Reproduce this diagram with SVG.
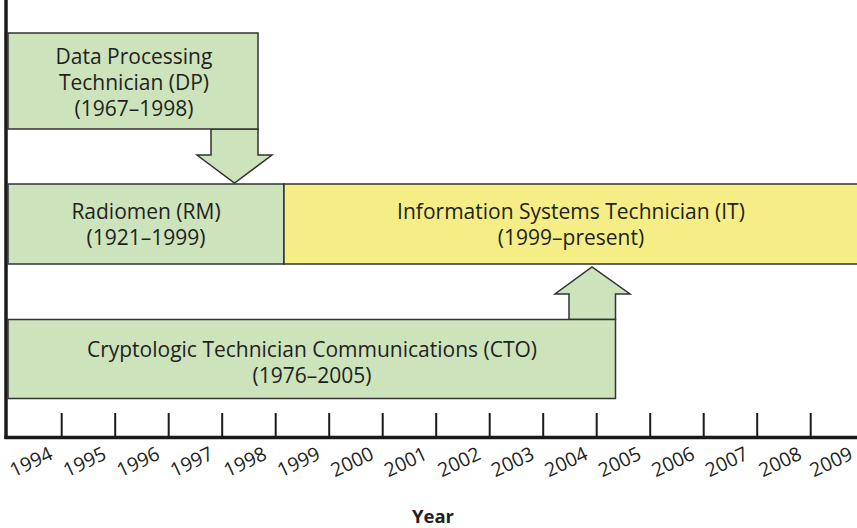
<svg xmlns="http://www.w3.org/2000/svg" width="857" height="528" viewBox="0 0 857 528">
<style>
.g{fill:#cce3bc;stroke:#333;stroke-width:1.5}
.y{fill:#f5ee87;stroke:#333;stroke-width:1.5}
.t{font-family:"Open Sans","Noto Sans",sans-serif;font-size:21px;fill:#231f20;text-anchor:middle}
.yr{font-family:"Open Sans","Noto Sans",sans-serif;font-size:19.5px;fill:#231f20;text-anchor:middle}
.ax{stroke:#1a1a1a;stroke-width:3.5;fill:none}
.tk{stroke:#1a1a1a;stroke-width:2}
</style>
<rect width="857" height="528" fill="#fff"/>
<g id="axes">
<line class="ax" x1="6" y1="0" x2="6" y2="439"/>
<line class="ax" x1="4.5" y1="437.5" x2="857" y2="437.5"/>
<g class="tk">
<line x1="61.7" y1="413" x2="61.7" y2="437"/><line x1="115.2" y1="413" x2="115.2" y2="437"/><line x1="168.7" y1="413" x2="168.7" y2="437"/><line x1="222.2" y1="413" x2="222.2" y2="437"/><line x1="275.7" y1="413" x2="275.7" y2="437"/><line x1="329.2" y1="413" x2="329.2" y2="437"/><line x1="382.7" y1="413" x2="382.7" y2="437"/><line x1="436.2" y1="413" x2="436.2" y2="437"/><line x1="489.7" y1="413" x2="489.7" y2="437"/><line x1="543.2" y1="413" x2="543.2" y2="437"/><line x1="596.7" y1="413" x2="596.7" y2="437"/><line x1="650.2" y1="413" x2="650.2" y2="437"/><line x1="703.7" y1="413" x2="703.7" y2="437"/><line x1="757.2" y1="413" x2="757.2" y2="437"/><line x1="810.7" y1="413" x2="810.7" y2="437"/>
</g>
<g class="yr">
<text transform="translate(34,468) rotate(-25)">1994</text>
<text transform="translate(87.5,468) rotate(-25)">1995</text>
<text transform="translate(141,468) rotate(-25)">1996</text>
<text transform="translate(194.5,468) rotate(-25)">1997</text>
<text transform="translate(248,468) rotate(-25)">1998</text>
<text transform="translate(301.5,468) rotate(-25)">1999</text>
<text transform="translate(355,468) rotate(-25)">2000</text>
<text transform="translate(408.5,468) rotate(-25)">2001</text>
<text transform="translate(462,468) rotate(-25)">2002</text>
<text transform="translate(515.5,468) rotate(-25)">2003</text>
<text transform="translate(569,468) rotate(-25)">2004</text>
<text transform="translate(622.5,468) rotate(-25)">2005</text>
<text transform="translate(676,468) rotate(-25)">2006</text>
<text transform="translate(729.5,468) rotate(-25)">2007</text>
<text transform="translate(783,468) rotate(-25)">2008</text>
<text transform="translate(834,468) rotate(-25)">2009</text>
</g>
<text x="433" y="523" style="font-family:'Open Sans','Noto Sans',sans-serif;font-size:18.5px;font-weight:bold;fill:#231f20;text-anchor:middle">Year</text>
</g>
<g id="connectors">
<polygon class="g" points="211,129 258,129 258,155 272,155 234.5,183 197,155 211,155"/>
<polygon class="g" points="569,319.5 615.5,319.5 615.5,294 630,294 592,267 555,294 569,294"/>
</g>
<g id="dp">
<rect class="g" x="8" y="33" width="250" height="96"/>
<text class="t" x="134" y="64">Data Processing</text>
<text class="t" x="134" y="90">Technician (DP)</text>
<text class="t" x="134" y="116">(1967–1998)</text>
</g>
<g id="rm">
<rect class="g" x="8" y="184" width="276" height="80"/>
<text class="t" x="146" y="219">Radiomen (RM)</text>
<text class="t" x="146" y="245">(1921–1999)</text>
</g>
<g id="it">
<rect class="y" x="284" y="184" width="575" height="80"/>
<text class="t" x="571" y="219">Information Systems Technician (IT)</text>
<text class="t" x="571" y="245">(1999–present)</text>
</g>
<g id="cto">
<rect class="g" x="8" y="319.5" width="607.5" height="79"/>
<text class="t" x="312" y="357">Cryptologic Technician Communications (CTO)</text>
<text class="t" x="312" y="383">(1976–2005)</text>
</g>
</svg>
